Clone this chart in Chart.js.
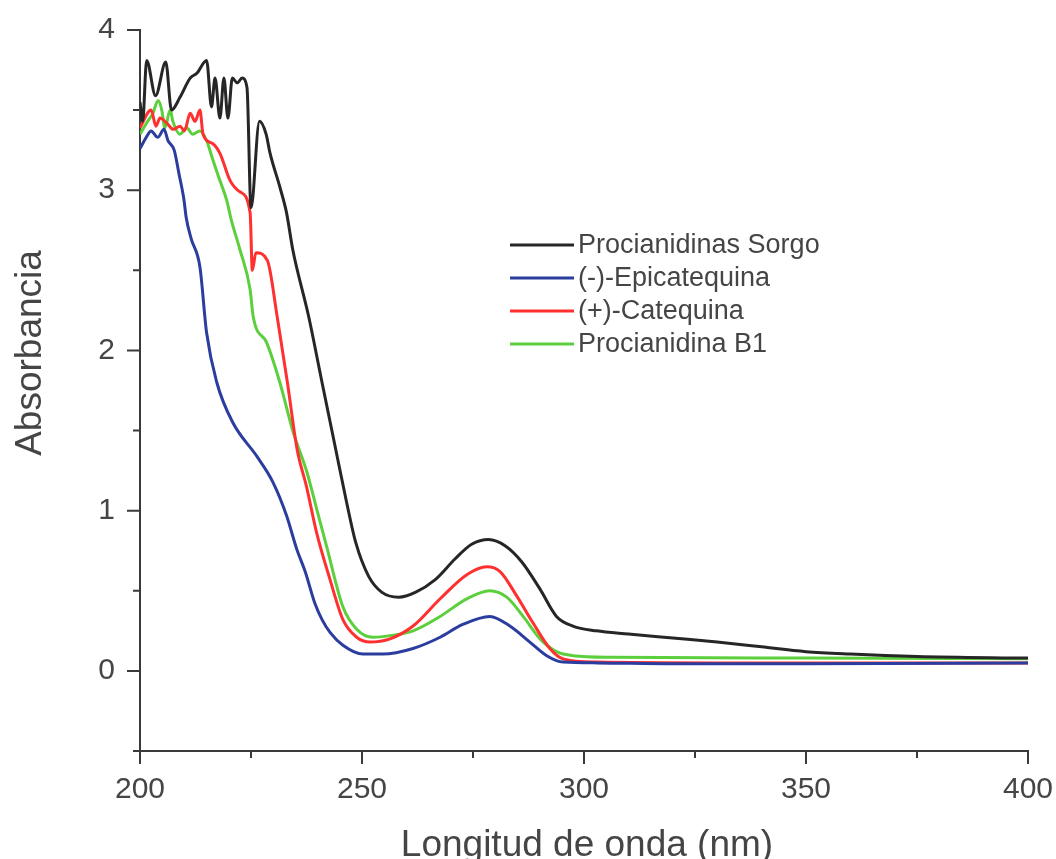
<!DOCTYPE html>
<html>
<head>
<meta charset="utf-8">
<script src="https://cdn.jsdelivr.net/npm/chart.js@4.4.0/dist/chart.umd.min.js"></script>
<style>
  html, body { margin: 0; padding: 0; background: #fff; }
  #wrap { width: 1056px; height: 859px; }
</style>
</head>
<body>
<div id="wrap"><canvas id="myChart" width="1056" height="859"></canvas></div>
<script>
// series names
const nombres = ["Procianidinas Sorgo", "(-)-Epicatequina", "(+)-Catequina", "Procianidina B1"];
const colores = ["#262626", "#2b3d9e", "#ff3030", "#5ccf3c"];

// Procianidinas Sorgo
const sorgoNm  = [200, 200.6, 201.5, 203.5, 205.8, 207.1, 209, 211.3, 212.8, 215, 216.1, 216.9, 218, 218.9, 219.8, 220.8, 221.9, 223, 224.1, 225, 226.9, 228.4, 229.3, 231.5, 233, 234.4, 238, 241, 244.1, 246.4, 248.6, 251.5, 254.5, 258.3, 262, 266.5, 271, 274.7, 278.5, 282.3, 286, 290.1, 293.8, 297.5, 302.8, 310, 320, 330, 340, 350, 360, 375, 400];
const sorgoAbs = [3.55, 3.43, 3.81, 3.59, 3.80, 3.50, 3.58, 3.70, 3.73, 3.81, 3.52, 3.70, 3.45, 3.70, 3.45, 3.70, 3.67, 3.70, 3.64, 2.89, 3.43, 3.35, 3.23, 3.02, 2.86, 2.63, 2.21, 1.80, 1.38, 1.07, 0.80, 0.59, 0.49, 0.46, 0.49, 0.57, 0.70, 0.79, 0.82, 0.78, 0.68, 0.51, 0.34, 0.28, 0.25, 0.23, 0.205, 0.18, 0.15, 0.12, 0.105, 0.09, 0.08];

// (-)-Epicatequina
const epiNm  = [200, 201.4, 202.5, 204, 205.4, 206.3, 207.7, 208.8, 209.9, 210.4, 211.5, 213.5, 215, 217.3, 220.9, 226.3, 229.9, 233, 235.3, 237.2, 239.4, 241, 242.8, 245.7, 250.2, 254.7, 261.5, 267.6, 272.7, 278.8, 283.3, 287.8, 291.6, 295.3, 303, 320, 350, 400];
const epiAbs = [3.26, 3.33, 3.37, 3.33, 3.38, 3.31, 3.25, 3.10, 2.94, 2.83, 2.70, 2.52, 2.11, 1.80, 1.55, 1.34, 1.18, 0.97, 0.76, 0.62, 0.42, 0.32, 0.24, 0.16, 0.105, 0.105, 0.14, 0.21, 0.29, 0.34, 0.28, 0.18, 0.095, 0.055, 0.05, 0.045, 0.045, 0.05];

// (+)-Catequina
const catNm  = [200, 202.5, 203.6, 204.5, 206, 207.5, 209, 210, 211.3, 212.4, 213.5, 214.2, 216.4, 218, 220.3, 222.5, 224.8, 225.3, 226.1, 228.7, 230.9, 233.2, 235.4, 237.5, 239.8, 242.8, 245.7, 248.8, 251.8, 256.3, 261.5, 267.6, 273.6, 278.1, 281.1, 284.8, 288.5, 292.3, 295.3, 303, 330, 400];
const catAbs = [3.39, 3.50, 3.40, 3.45, 3.42, 3.38, 3.40, 3.37, 3.48, 3.43, 3.50, 3.35, 3.29, 3.23, 3.06, 2.99, 2.86, 2.50, 2.61, 2.56, 2.21, 1.80, 1.38, 1.15, 0.86, 0.57, 0.32, 0.21, 0.18, 0.20, 0.28, 0.45, 0.60, 0.65, 0.62, 0.47, 0.30, 0.14, 0.075, 0.055, 0.05, 0.05];

// Procianidina B1
const b1Nm  = [200, 201.5, 202.9, 204.1, 204.9, 205.6, 206.8, 207.4, 209, 210.5, 211.9, 213.5, 215, 216.4, 218, 219.5, 220.6, 222.5, 224.8, 225.5, 228.5, 231.5, 234.5, 237.6, 239.8, 242, 245.7, 248.8, 252.5, 256.3, 261.5, 267.6, 273.6, 278.8, 282.6, 286.3, 290.1, 293.8, 297.5, 306.5, 350, 400];
const b1Abs = [3.35, 3.42, 3.48, 3.56, 3.50, 3.39, 3.50, 3.43, 3.35, 3.39, 3.35, 3.37, 3.31, 3.19, 3.06, 2.94, 2.81, 2.63, 2.38, 2.21, 2.05, 1.80, 1.49, 1.24, 1.01, 0.78, 0.40, 0.26, 0.21, 0.22, 0.25, 0.34, 0.45, 0.50, 0.46, 0.34, 0.20, 0.12, 0.095, 0.085, 0.08, 0.075];

// ticks
const xTicks = [200, 250, 300, 350, 400];
const xMinor = [225, 275, 325, 375];
const yTicks = [0, 1, 2, 3, 4];
const yMinor = [-0.5, 0.5, 1.5, 2.5, 3.5];

const textColor = "#454545";
const axisColor = "#3a3a3a";
const fuente = "'Liberation Sans', Arial, sans-serif";

function puntos(nm, abs) {
    return nm.map(function (v, i) { return { x: v, y: abs[i] }; });
}

const series = [puntos(sorgoNm, sorgoAbs), puntos(epiNm, epiAbs), puntos(catNm, catAbs), puntos(b1Nm, b1Abs)];

// ticks (major + minor), legend and axis titles
const extras = {
    id: "extras",
    afterDraw: function (chart) {
        const c = chart.ctx;
        const xs = chart.scales.x;
        const ys = chart.scales.y;
        const a = chart.chartArea;
        c.save();
        c.strokeStyle = axisColor;
        c.lineWidth = 2;
        c.beginPath();
        xTicks.forEach(function (v) {
            const p = xs.getPixelForValue(v);
            c.moveTo(p, a.bottom); c.lineTo(p, a.bottom + 13);
        });
        xMinor.forEach(function (v) {
            const p = xs.getPixelForValue(v);
            c.moveTo(p, a.bottom); c.lineTo(p, a.bottom + 7);
        });
        yTicks.forEach(function (v) {
            const p = ys.getPixelForValue(v);
            c.moveTo(a.left, p); c.lineTo(a.left - 13, p);
        });
        yMinor.forEach(function (v) {
            const p = ys.getPixelForValue(v);
            c.moveTo(a.left, p); c.lineTo(a.left - 7, p);
        });
        c.stroke();

        // legend
        c.font = "27px " + fuente;
        c.textBaseline = "middle";
        c.textAlign = "left";
        chart.data.datasets.forEach(function (ds, i) {
            const y = 245 + i * 33;
            c.strokeStyle = ds.borderColor;
            c.lineWidth = 3;
            c.beginPath();
            c.moveTo(510, y); c.lineTo(574, y);
            c.stroke();
            c.fillStyle = textColor;
            c.fillText(ds.label, 578, y + 1);
        });

        // axis titles
        c.font = "37px " + fuente;
        c.fillStyle = textColor;
        c.textAlign = "center";
        c.textBaseline = "alphabetic";
        c.fillText("Longitud de onda (nm)", 587, 856);
        c.translate(41, 353);
        c.rotate(-Math.PI / 2);
        c.fillText("Absorbancia", 0, 0);
        c.restore();
    }
};

let ctx = document.getElementById("myChart").getContext("2d");

let myChart = new Chart(ctx, {
    type: "line",
    data: {
        datasets: series.map(function (d, i) {
            return {
                label: nombres[i],
                data: d,
                borderColor: colores[i],
                backgroundColor: colores[i],
                borderWidth: 3,
                pointRadius: 0,
                fill: false,
                cubicInterpolationMode: "monotone"
            };
        })
    },
    options: {
        responsive: false,
        animation: false,
        layout: {
            padding: { left: 0, right: 28, top: 30, bottom: 0 }
        },
        plugins: {
            legend: { display: false },
            tooltip: { enabled: false }
        },
        scales: {
            x: {
                type: "linear",
                min: 200,
                max: 400,
                afterBuildTicks: function (scale) {
                    scale.ticks = xTicks.map(function (v) { return { value: v }; });
                },
                afterFit: function (scale) {
                    scale.height = 108;
                    scale.paddingLeft = 0;
                    scale.paddingRight = 0;
                },
                grid: { display: false, drawTicks: false },
                border: { display: true, color: axisColor, width: 2 },
                ticks: {
                    color: textColor,
                    padding: 21,
                    maxRotation: 0,
                    font: { family: fuente, size: 30 }
                }
            },
            y: {
                type: "linear",
                min: -0.5,
                max: 4,
                afterBuildTicks: function (scale) {
                    scale.ticks = yTicks.map(function (v) { return { value: v }; });
                },
                afterFit: function (scale) {
                    scale.width = 140;
                    scale.paddingTop = 0;
                    scale.paddingBottom = 0;
                },
                grid: { display: false, drawTicks: false },
                border: { display: true, color: axisColor, width: 2 },
                ticks: {
                    color: textColor,
                    padding: 25,
                    font: { family: fuente, size: 30 }
                }
            }
        }
    },
    plugins: [extras]
});
</script>
</body>
</html>
